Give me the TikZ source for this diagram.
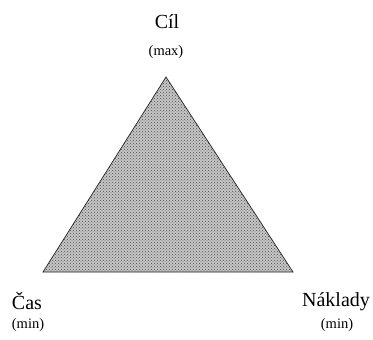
\documentclass[tikz,border=0pt]{standalone}
\usepackage{fontspec}
\setmainfont{Liberation Serif}
\usetikzlibrary{patterns}
\begin{document}
\begin{tikzpicture}[x=1pt,y=-1pt,
  biglabel/.style={font=\fontsize{20}{24}\selectfont, inner sep=0pt},
  smalllabel/.style={font=\fontsize{14.5}{17}\selectfont, inner sep=0pt}]
\useasboundingbox[fill=white] (0,0) rectangle (373,340);
\coordinate (A) at (166,77);
\coordinate (B) at (43,272);
\coordinate (C) at (293,272);
\fill[gray!45] (A) -- (B) -- (C) -- cycle;
\fill[pattern=crosshatch dots, pattern color=black!70] (A) -- (B) -- (C) -- cycle;
\draw[line width=0.7pt, black!85] (A) -- (B) -- (C) -- cycle;
\node[biglabel] (cil) at (167,22) {Cíl};
\node[smalllabel] (cilm) at (166,52) {(max)};
\node[biglabel] (cas) at (27,301) {Čas};
\node[smalllabel] (casm) at (28,325) {(min)};
\node[biglabel] (nak) at (336,302) {Náklady};
\node[smalllabel] (nakm) at (337,325) {(min)};
\end{tikzpicture}
\end{document}
